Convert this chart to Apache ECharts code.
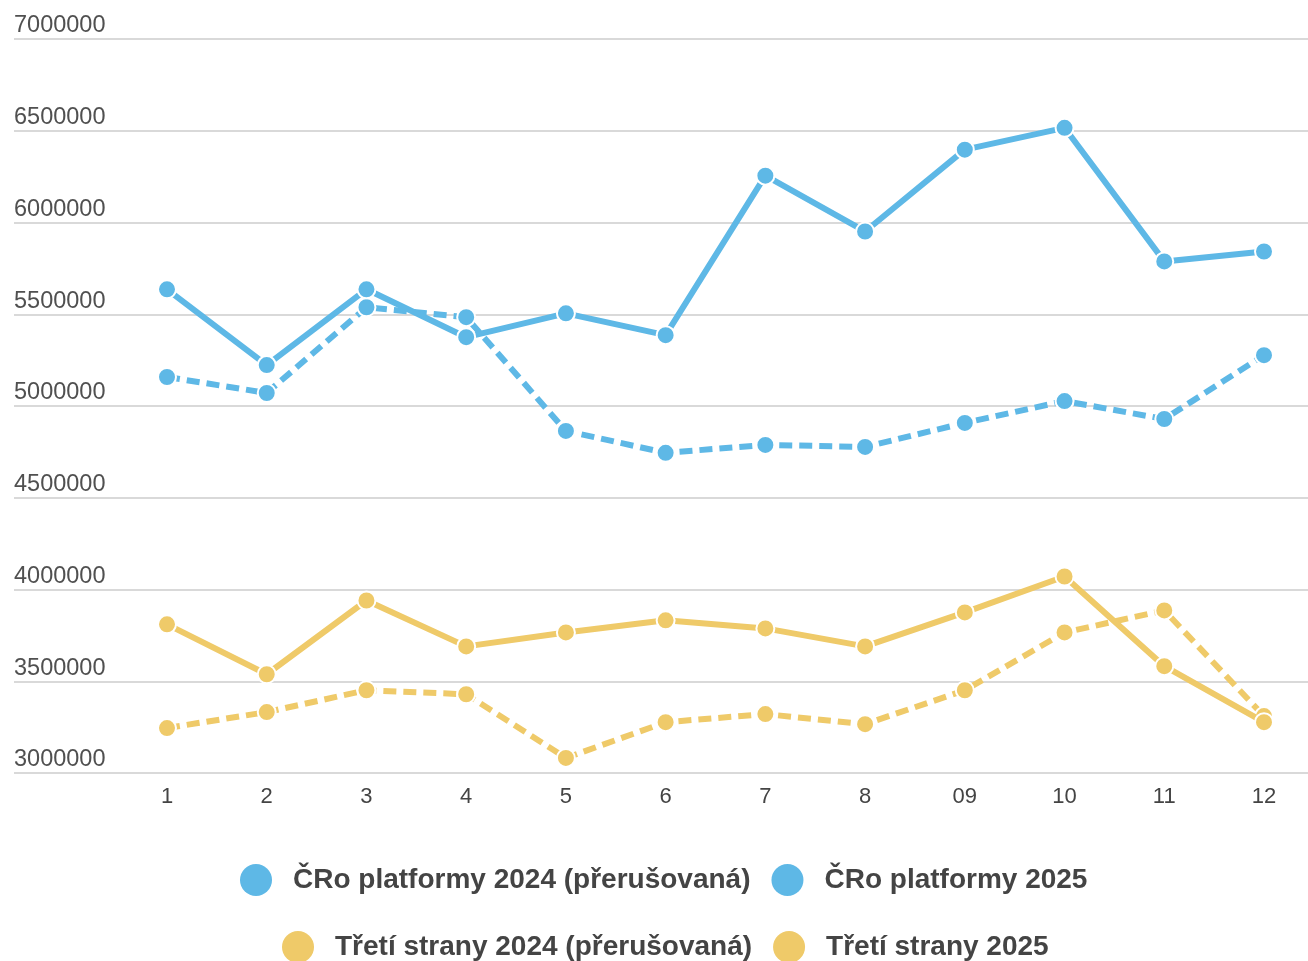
<!DOCTYPE html>
<html>
<head>
<meta charset="utf-8">
<title>ČRo platformy / Třetí strany</title>
<script src="https://cdn.jsdelivr.net/npm/echarts@6/dist/echarts.min.js"></script>
<style>
  html, body { margin: 0; padding: 0; background: #fff; }
  #chart { width: 1308px; height: 961px; }
</style>
</head>
<body>
<div id="chart"></div>
<script>
// mesice
const months = ['1', '2', '3', '4', '5', '6', '7', '8', '09', '10', '11', '12'];

// ČRo platformy
const cro2024 = [5158000, 5071000, 5538000, 5484000, 4864000, 4745000, 4788000, 4777000, 4908000, 5027000, 4929000, 5277000];
const cro2025 = [5636000, 5223000, 5636000, 5375000, 5505000, 5386000, 6255000, 5951000, 6397000, 6516000, 5788000, 5842000];

// Třetí strany
const treti2024 = [3245000, 3332000, 3451000, 3429000, 3082000, 3277000, 3321000, 3266000, 3451000, 3766000, 3886000, 3310000];
const treti2025 = [3810000, 3538000, 3940000, 3690000, 3766000, 3832000, 3788000, 3690000, 3875000, 4071000, 3582000, 3277000];

const names = [
  'ČRo platformy 2024 (přerušovaná)',
  'ČRo platformy 2025',
  'Třetí strany 2024 (přerušovaná)',
  'Třetí strany 2025'
];

const blue = '#5eb8e6';
const yellow = '#efca69';
const font = '"Liberation Sans", Arial, sans-serif';

const chart = echarts.init(document.getElementById('chart'));

// spolecne nastaveni car
const lineSeries = (name, data, color, dashed) => ({
  name: name,
  type: 'line',
  xAxisIndex: 1,
  yAxisIndex: 1,
  data: data,
  symbol: 'circle',
  symbolSize: 18,
  showSymbol: true,
  itemStyle: { color: color, borderColor: '#fff', borderWidth: 2 },
  lineStyle: { color: color, width: 6, type: dashed ? [13, 7] : 'solid' },
  emphasis: { disabled: true },
  z: dashed ? 2 : 3
});

const legendBase = {
  icon: 'circle',
  itemWidth: 32,
  itemHeight: 32,
  itemGap: 21,
  itemStyle: { borderWidth: 0 },
  textStyle: {
    fontFamily: font,
    fontSize: 28,
    fontWeight: 'bold',
    color: '#444',
    padding: [0, 0, 0, 16]
  }
};

chart.setOption({
  animation: false,
  // grid 0 = mrizka pres celou sirku, grid 1 = data
  grid: [
    { left: 14, right: 0, top: 39, bottom: 188 },
    { left: 167, right: 44, top: 39, bottom: 188 }
  ],
  xAxis: [
    { gridIndex: 0, type: 'category', data: months, show: false },
    {
      gridIndex: 1,
      type: 'category',
      data: months,
      boundaryGap: false,
      axisLine: { show: false },
      axisTick: { show: false },
      splitLine: { show: false },
      axisLabel: { color: '#444', fontFamily: font, fontSize: 22, margin: 13 }
    }
  ],
  yAxis: [
    {
      gridIndex: 0,
      type: 'value',
      min: 3000000,
      max: 7000000,
      interval: 500000,
      axisLine: { show: false },
      axisTick: { show: false },
      splitLine: { lineStyle: { color: '#d9d9d9', width: 2 } },
      axisLabel: {
        inside: true,
        margin: 0,
        align: 'left',
        verticalAlign: 'bottom',
        padding: [0, 0, 1, 0],
        color: '#505050',
        fontFamily: font,
        fontSize: 23.5,
        formatter: (v) => String(v)
      }
    },
    {
      gridIndex: 1,
      type: 'value',
      min: 3000000,
      max: 7000000,
      interval: 500000,
      show: false,
      splitLine: { show: false }
    }
  ],
  legend: [
    Object.assign({}, legendBase, { left: 235, top: 859, data: [names[0], names[1]] }),
    Object.assign({}, legendBase, { left: 277, top: 926, data: [names[2], names[3]] })
  ],
  series: [
    lineSeries(names[0], cro2024, blue, true),
    lineSeries(names[1], cro2025, blue, false),
    lineSeries(names[2], treti2024, yellow, true),
    lineSeries(names[3], treti2025, yellow, false)
  ]
});
</script>
</body>
</html>
